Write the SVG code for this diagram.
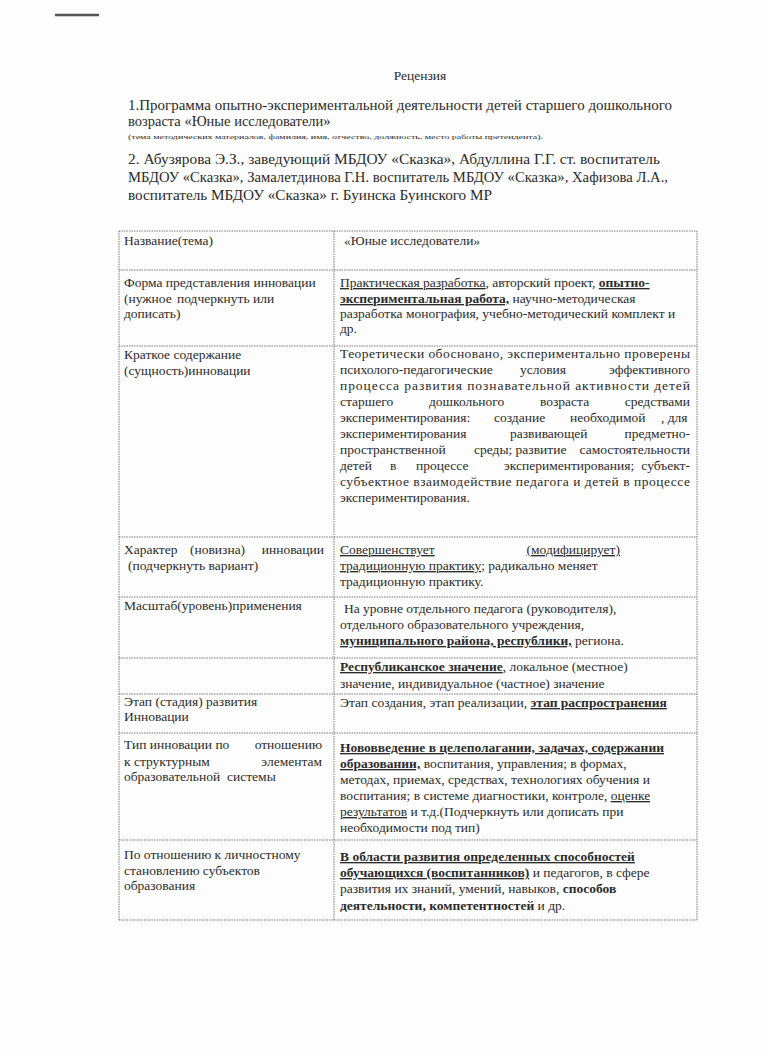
<svg xmlns="http://www.w3.org/2000/svg" width="768" height="1056" viewBox="0 0 768 1056" font-family="'Liberation Serif', 'Times New Roman', Tinos, serif">
<style>
text{font-family:"Liberation Serif","Times New Roman",Tinos,serif;fill:#2b2b2b}
.h{font-size:14.5px}
.t{font-size:13.5px}
.s{font-size:7px}
.b{font-weight:bold}
.u{text-decoration:underline}
.grid line{stroke:#7a7a7a;stroke-width:1;stroke-dasharray:1.5 1}
</style>
<rect width="768" height="1056" fill="#fdfdfd"/>
<line x1="55" y1="15" x2="99" y2="15" stroke="#555" stroke-width="2.5"/>
<g id="header">
<text class="t" x="420" y="80" text-anchor="middle">Рецензия</text>
<text class="h" x="128" y="110" textLength="544" lengthAdjust="spacingAndGlyphs">1.Программа опытно-экспериментальной деятельности детей старшего дошкольного</text>
<text class="h" x="128" y="126">возраста «Юные исследователи»</text>
<text class="s" x="128" y="139" textLength="415" lengthAdjust="spacingAndGlyphs">(тема методических материалов, фамилия, имя, отчество, должность, место работы претендента).</text>
<text class="h" x="128" y="164" textLength="532" lengthAdjust="spacingAndGlyphs">2. Абузярова Э.З., заведующий МБДОУ «Сказка», Абдуллина Г.Г. ст. воспитатель</text>
<text class="h" x="128" y="182" textLength="540" lengthAdjust="spacingAndGlyphs">МБДОУ «Сказка», Замалетдинова Г.Н. воспитатель МБДОУ «Сказка», Хафизова Л.А.,</text>
<text class="h" x="128" y="200" textLength="364" lengthAdjust="spacingAndGlyphs">воспитатель МБДОУ «Сказка» г. Буинска Буинского МР</text>
</g>
<g id="table-grid" class="grid">
<line x1="119" y1="231" x2="697" y2="231"/>
<line x1="119" y1="270" x2="697" y2="270"/>
<line x1="119" y1="346" x2="697" y2="346"/>
<line x1="119" y1="537" x2="697" y2="537"/>
<line x1="119" y1="597" x2="697" y2="597"/>
<line x1="119" y1="658" x2="697" y2="658"/>
<line x1="119" y1="694" x2="697" y2="694"/>
<line x1="119" y1="733" x2="697" y2="733"/>
<line x1="119" y1="840" x2="697" y2="840"/>
<line x1="119" y1="920" x2="697" y2="920"/>
<line x1="119" y1="231" x2="119" y2="920"/>
<line x1="334" y1="231" x2="334" y2="920"/>
<line x1="697" y1="231" x2="697" y2="920"/>
</g>
<g id="row-name">
<text class="t" x="124" y="245">Название(тема)</text>
<text class="t" x="344" y="245">«Юные исследователи»</text>
</g>
<g id="row-form">
<text class="t" x="124" y="287">Форма представления инновации</text>
<text class="t" y="303"><tspan x="124">(нужное</tspan><tspan x="177">подчеркнуть или</tspan></text>
<text class="t" x="124" y="318">дописать)</text>
<text class="t" x="340" y="287"><tspan class="u">Практическая разработка</tspan>, авторский проект, <tspan class="b u">опытно-</tspan></text>
<text class="t" x="340" y="303"><tspan class="b u">экспериментальная работа,</tspan> научно-методическая</text>
<text class="t" x="340" y="318">разработка монография, учебно-методический комплект и</text>
<text class="t" x="340" y="333">др.</text>
</g>
<g id="row-summary">
<text class="t" x="124" y="359">Краткое содержание</text>
<text class="t" x="124" y="375">(сущность)инновации</text>
<text class="t" x="340" y="358" textLength="350" lengthAdjust="spacing">Теоретически обосновано,  экспериментально проверены</text>
<text class="t" y="374"><tspan x="340">психолого-педагогические</tspan><tspan x="520">условия</tspan><tspan x="690" text-anchor="end">эффективного</tspan></text>
<text class="t" x="340" y="390" textLength="350" lengthAdjust="spacing">процесса развития познавательной активности детей</text>
<text class="t" y="406"><tspan x="340">старшего</tspan><tspan x="429">дошкольного</tspan><tspan x="540">возраста</tspan><tspan x="690" text-anchor="end">средствами</tspan></text>
<text class="t" y="422"><tspan x="340">экспериментирования:</tspan><tspan x="494">создание</tspan><tspan x="570">необходимой</tspan><tspan x="661">, для</tspan></text>
<text class="t" y="438"><tspan x="340">экспериментирования</tspan><tspan x="510">развивающей</tspan><tspan x="690" text-anchor="end">предметно-</tspan></text>
<text class="t" y="454"><tspan x="340">пространственной</tspan><tspan x="474">среды; развитие</tspan><tspan x="690" text-anchor="end">самостоятельности</tspan></text>
<text class="t" y="470"><tspan x="340">детей</tspan><tspan x="390">в</tspan><tspan x="416">процессе</tspan><tspan x="504">экспериментирования;</tspan><tspan x="690" text-anchor="end">субъект-</tspan></text>
<text class="t" x="340" y="486" textLength="350" lengthAdjust="spacing">субъектное взаимодействие педагога и детей в процессе</text>
<text class="t" x="340" y="502">экспериментирования.</text>
</g>
<g id="row-character">
<text class="t" y="554"><tspan x="124">Характер</tspan><tspan x="190">(новизна)</tspan><tspan x="324" text-anchor="end">инновации</tspan></text>
<text class="t" x="128" y="570">(подчеркнуть вариант)</text>
<text class="t" y="554"><tspan x="340" class="u">Совершенствует</tspan><tspan x="620" text-anchor="end" class="u">(модифицирует)</tspan></text>
<text class="t" x="340" y="570"><tspan class="u">традиционную практику</tspan>; радикально меняет</text>
<text class="t" x="340" y="586">традиционную практику.</text>
</g>
<g id="row-scale">
<text class="t" x="124" y="610">Масштаб(уровень)применения</text>
<text class="t" x="344" y="613">На уровне отдельного педагога (руководителя),</text>
<text class="t" x="340" y="629">отдельного образовательного учреждения,</text>
<text class="t" x="340" y="645"><tspan class="b u">муниципального района, республики,</tspan> региона.</text>
</g>
<g id="row-significance">
<text class="t" x="340" y="671"><tspan class="b u">Республиканское значение</tspan>, локальное (местное)</text>
<text class="t" x="340" y="688">значение, индивидуальное (частное) значение</text>
</g>
<g id="row-stage">
<text class="t" x="124" y="706">Этап (стадия) развития</text>
<text class="t" x="124" y="721">Инновации</text>
<text class="t" x="340" y="707">Этап создания, этап реализации, <tspan class="b u">этап распространения</tspan></text>
</g>
<g id="row-type">
<text class="t" y="749"><tspan x="124">Тип инновации по</tspan><tspan x="322" text-anchor="end">отношению</tspan></text>
<text class="t" y="766"><tspan x="124">к структурным</tspan><tspan x="322" text-anchor="end">элементам</tspan></text>
<text class="t" y="781"><tspan x="124">образовательной</tspan><tspan x="227">системы</tspan></text>
<text class="t b u" x="340" y="752">Нововведение в целеполагании, задачах, содержании</text>
<text class="t" x="340" y="768"><tspan class="b u">образовании,</tspan> воспитания, управления; в формах,</text>
<text class="t" x="340" y="784">методах, приемах, средствах, технологиях обучения и</text>
<text class="t" x="340" y="800">воспитания; в системе диагностики, контроле, <tspan class="u">оценке</tspan></text>
<text class="t" x="340" y="816"><tspan class="u">результатов</tspan> и т.д.(Подчеркнуть или дописать при</text>
<text class="t" x="340" y="832">необходимости под тип)</text>
</g>
<g id="row-personal">
<text class="t" x="124" y="859">По отношению к личностному</text>
<text class="t" x="124" y="875">становлению субъектов</text>
<text class="t" x="124" y="890">образования</text>
<text class="t b u" x="340" y="861">В области развития определенных способностей</text>
<text class="t" x="340" y="877"><tspan class="b u">обучающихся (воспитанников)</tspan> и педагогов, в сфере</text>
<text class="t" x="340" y="893">развития их знаний, умений, навыков, <tspan class="b">способов</tspan></text>
<text class="t" x="340" y="910"><tspan class="b">деятельности, компетентностей</tspan> и др.</text>
</g>
</svg>
